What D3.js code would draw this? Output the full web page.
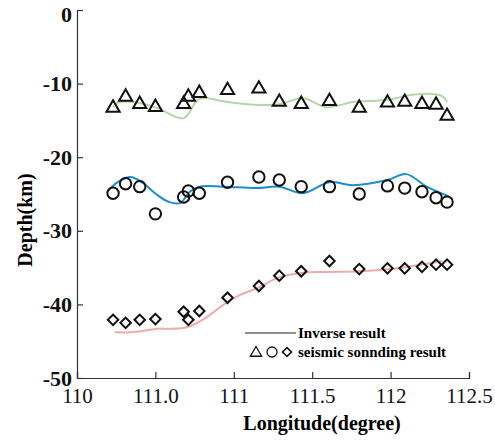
<!DOCTYPE html>
<html>
<head>
<meta charset="utf-8">
<script src="https://cdn.jsdelivr.net/npm/d3@7"></script>
<style>
  body { margin: 0; background: #fff; }
  svg text { font-family: "Liberation Serif", "Times New Roman", serif; }
</style>
</head>
<body>
<svg id="chart" width="495" height="443"></svg>
<script>
// tick labels as printed on the figure
const xTicks = [110, 110.5, 111, 111.5, 112, 112.5];
const xTickLabels = ["110", "111.0", "111", "111.5", "112", "112.5"];
const yTicks = [0, -10, -20, -30, -40, -50];

// seismic sounding points (same longitudes for all three layers)
const pointLon = [110.23, 110.31, 110.40, 110.50, 110.68, 110.71, 110.78, 110.96, 111.16, 111.29,
                  111.43, 111.61, 111.80, 111.98, 112.09, 112.20, 112.29, 112.36];
const triDepth = [-13.3, -11.8, -12.8, -13.2, -12.8, -11.8, -11.3, -10.9, -10.7, -12.5,
                  -12.8, -12.4, -13.3, -12.6, -12.5, -12.8, -12.9, -14.4];
const circDepth = [-24.9, -23.6, -24.0, -27.7, -25.4, -24.6, -24.9, -23.4, -22.7, -23.1,
                   -24.0, -24.0, -25.0, -23.9, -24.2, -24.7, -25.5, -26.1];
const diaDepth = [-42.1, -42.5, -42.1, -42.0, -41.0, -42.1, -40.9, -39.1, -37.5, -36.1,
                  -35.5, -34.1, -35.2, -35.1, -35.1, -34.9, -34.6, -34.6];

// inverse result curves
const greenLon = [110.23, 110.26, 110.36, 110.51, 110.68, 110.77, 110.83, 110.93, 111.15, 111.29,
                  111.44, 111.59, 111.76, 111.98, 112.14, 112.27, 112.33, 112.36];
const greenDepth = [-13.2, -12.6, -12.5, -13.3, -14.7, -12.2, -12.0, -12.4, -12.9, -12.8,
                    -12.0, -13.2, -12.5, -12.2, -11.5, -11.4, -11.7, -12.5];
const blueLon = [110.20, 110.26, 110.34, 110.42, 110.51, 110.59, 110.66, 110.69, 110.72, 110.78,
                 110.93, 111.15, 111.29, 111.44, 111.61, 111.76, 111.98, 112.10, 112.23, 112.37];
const blueDepth = [-24.5, -23.4, -22.7, -23.5, -25.1, -26.1, -26.2, -25.5, -24.7, -24.0,
                   -24.0, -24.2, -24.0, -24.9, -23.4, -23.8, -23.1, -22.3, -24.0, -25.3];
const pinkLon = [110.24, 110.34, 110.42, 110.51, 110.57, 110.68, 110.74, 110.83, 110.93, 111.04,
                 111.15, 111.29, 111.44, 111.61, 111.80, 112.00, 112.19, 112.33];
const pinkDepth = [-43.8, -43.8, -43.6, -43.3, -43.3, -43.2, -42.8, -41.7, -40.1, -38.7,
                   -37.8, -36.3, -35.7, -35.6, -35.5, -35.2, -34.6, -34.1];

const svg = d3.select("#chart");
const x = d3.scaleLinear().domain([110, 112.5]).range([77, 469]);
const y = d3.scaleLinear().domain([0, -50]).range([10, 378]);

// axes (ticks point inward)
const xAxis = svg.append("g")
  .attr("transform", "translate(0," + y(-50) + ")")
  .call(d3.axisBottom(x).tickValues(xTicks).tickSize(-6).tickPadding(7)
        .tickFormat((d, i) => xTickLabels[i]));
const yAxis = svg.append("g")
  .attr("transform", "translate(" + x(110) + ",0)")
  .call(d3.axisLeft(y).tickValues(yTicks).tickSize(-6).tickPadding(5).tickFormat(d => String(d)));

[xAxis, yAxis].forEach(g => {
  g.select(".domain").attr("stroke", "#333").attr("stroke-width", 1.2);
  g.selectAll(".tick line").attr("stroke", "#333").attr("stroke-width", 1.2);
  g.selectAll(".tick text").attr("fill", "#111")
    .style("font-family", "'Liberation Serif', serif");
});
xAxis.selectAll(".tick text").style("font-size", "21px").attr("dy", "0.85em");
yAxis.selectAll(".tick text").style("font-size", "22px").style("font-weight", "bold")
  .attr("dy", d => d === 0 ? "0.5em" : "0.32em");

// axis titles
svg.append("text")
  .attr("x", 322).attr("y", 430)
  .attr("text-anchor", "middle")
  .style("font-size", "20px").style("font-weight", "bold")
  .text("Longitude(degree)");
svg.append("text")
  .attr("transform", "translate(32,220) rotate(-90)")
  .attr("text-anchor", "middle")
  .style("font-size", "20px").style("font-weight", "bold")
  .text("Depth(km)");

// curves
const line = d3.line().x(d => x(d[0])).y(d => y(d[1])).curve(d3.curveCatmullRom);
const curves = [
  {lon: greenLon, depth: greenDepth, color: "#b7d6a8"},
  {lon: blueLon, depth: blueDepth, color: "#1b8fcc"},
  {lon: pinkLon, depth: pinkDepth, color: "#efaaaa"}
];
curves.forEach(c => {
  svg.append("path")
    .datum(c.lon.map((v, i) => [v, c.depth[i]]))
    .attr("fill", "none")
    .attr("stroke", c.color)
    .attr("stroke-width", 2)
    .attr("d", line);
});

// markers
const triSym = d3.symbol().type(d3.symbolTriangle).size(75);
const diaSym = d3.symbol().type(d3.symbolSquare).size(55);

svg.append("g").selectAll("path")
  .data(pointLon.map((v, i) => [v, triDepth[i]]))
  .join("path")
  .attr("transform", d => "translate(" + x(d[0]) + "," + y(d[1]) + ")")
  .attr("d", triSym)
  .attr("fill", "none").attr("stroke", "#111").attr("stroke-width", 2);

svg.append("g").selectAll("circle")
  .data(pointLon.map((v, i) => [v, circDepth[i]]))
  .join("circle")
  .attr("cx", d => x(d[0])).attr("cy", d => y(d[1])).attr("r", 5.7)
  .attr("fill", "none").attr("stroke", "#111").attr("stroke-width", 2);

svg.append("g").selectAll("path")
  .data(pointLon.map((v, i) => [v, diaDepth[i]]))
  .join("path")
  .attr("transform", d => "translate(" + x(d[0]) + "," + y(d[1]) + ") rotate(45)")
  .attr("d", diaSym)
  .attr("fill", "none").attr("stroke", "#111").attr("stroke-width", 2);

// legend
const legend = svg.append("g");
legend.append("line")
  .attr("x1", 245).attr("x2", 296).attr("y1", 333).attr("y2", 333)
  .attr("stroke", "#222").attr("stroke-width", 1);
legend.append("text").attr("x", 298).attr("y", 338)
  .style("font-size", "15px").style("font-weight", "bold")
  .text("Inverse result");
legend.append("path")
  .attr("transform", "translate(256,353)")
  .attr("d", d3.symbol().type(d3.symbolTriangle).size(55))
  .attr("fill", "none").attr("stroke", "#111").attr("stroke-width", 1.3);
legend.append("circle").attr("cx", 272).attr("cy", 352).attr("r", 5)
  .attr("fill", "none").attr("stroke", "#111").attr("stroke-width", 1.3);
legend.append("path")
  .attr("transform", "translate(287,352) rotate(45)")
  .attr("d", d3.symbol().type(d3.symbolSquare).size(40))
  .attr("fill", "none").attr("stroke", "#111").attr("stroke-width", 1.6);
legend.append("text").attr("x", 298).attr("y", 357)
  .style("font-size", "15px").style("font-weight", "bold")
  .text("seismic sonnding result");
</script>
</body>
</html>
